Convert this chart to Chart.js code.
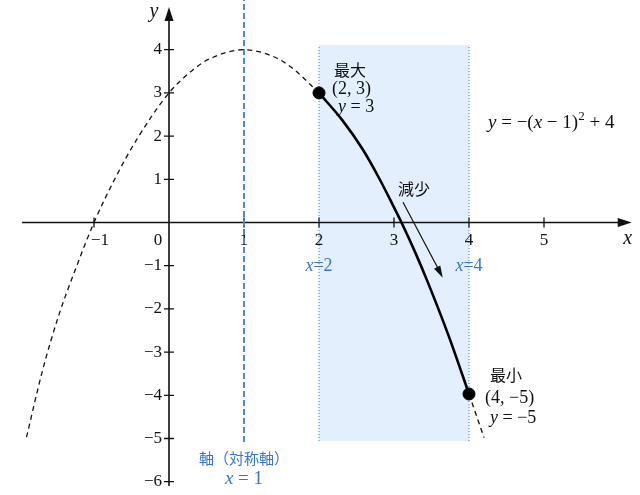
<!DOCTYPE html>
<html lang="ja">
<head>
<meta charset="UTF-8">
<title>y = -(x-1)^2 + 4 の最大・最小</title>
<script src="https://cdn.jsdelivr.net/npm/chart.js"></script>
<style>
  html, body { margin: 0; padding: 0; background: #fff; }
  #graph { display: block; }
</style>
</head>
<body>
<canvas id="graph" width="640" height="495"></canvas>
<script>
// 放物線（破線部分）：図から読み取った点
const dashX = [-1.9, -1.69, -1.47, -1.24, -1, -0.71, -0.42, 0, 0.31, 0.53, 1, 1.42, 1.64, 2];
const dashY = [-4.97, -3.45, -2.15, -1.05, 0, 1.05, 1.95, 3.0, 3.52, 3.78, 4.0, 3.82, 3.58, 3.0];
const tailX = [4, 4.2];
const tailY = [-3.97, -4.98];
// 定義域 2 ≤ x ≤ 4 の実線部分
const solidX = [2, 2.31, 2.58, 2.8, 2.98, 3.1, 3.29, 3.45, 3.73, 4];
const solidY = [3, 2.37, 1.7, 1.03, 0.42, 0, -0.72, -1.38, -2.63, -3.97];
// 最大・最小の点
const extremaX = [2, 4];
const extremaY = [3, -3.97];
// 目盛り
const xTicks = [-1, 1, 2, 3, 4, 5];
const yTicks = [-6, -5, -4, -3, -2, -1, 1, 2, 3, 4];
// 定義域の帯・対称軸・減少の矢印
const domain = [2, 4];
const bandY = [-5.06, 4.11];
const symX = 1;
const symY = [-5.08, 5.3];
const arrowX = [3.12, 3.65];
const arrowY = [0.47, -1.28];
// 座標軸の範囲
const xAxisRange = [-1.96, 6.17];
const yAxisRange = [-6.1, 4.99];

const BLUE = '#3374de';
const SERIF = '"Liberation Serif", "DejaVu Serif", serif';
const CJK = '"Noto Sans CJK JP", "Noto Sans", sans-serif';

const pts = (xs, ys) => xs.map((v, i) => ({ x: v, y: ys[i] }));

// 文字列の一部を斜体・上付きで描く
function rich(ctx, parts, x, y, size, color, align) {
  const fontOf = p => (p.it ? 'italic ' : '') + (p.sup ? Math.round(size * 0.7) : size) + 'px ' + SERIF;
  let total = 0;
  parts.forEach(p => { ctx.font = fontOf(p); total += ctx.measureText(p.t).width; });
  let cx = align === 'center' ? x - total / 2 : x;
  ctx.textAlign = 'left';
  ctx.textBaseline = 'middle';
  ctx.fillStyle = color;
  parts.forEach(p => {
    ctx.font = fontOf(p);
    ctx.fillText(p.t, cx, p.sup ? y - size * 0.36 : y);
    cx += ctx.measureText(p.t).width;
  });
}

function arrowHead(ctx, fx, fy, tx, ty, len, half) {
  const a = Math.atan2(ty - fy, tx - fx);
  ctx.beginPath();
  ctx.moveTo(tx, ty);
  ctx.lineTo(tx - len * Math.cos(a) + half * Math.sin(a), ty - len * Math.sin(a) - half * Math.cos(a));
  ctx.lineTo(tx - len * Math.cos(a) - half * Math.sin(a), ty - len * Math.sin(a) + half * Math.cos(a));
  ctx.closePath();
  ctx.fill();
}

const axesPlugin = {
  id: 'axes',
  beforeDatasetsDraw(chart) {
    const { ctx, scales: { x, y } } = chart;
    const x0 = x.getPixelForValue(0), y0 = y.getPixelForValue(0);
    ctx.save();
    // 定義域の帯
    ctx.fillStyle = '#e3effc';
    const l = x.getPixelForValue(domain[0]), r = x.getPixelForValue(domain[1]);
    const t = y.getPixelForValue(bandY[1]), b = y.getPixelForValue(bandY[0]);
    ctx.fillRect(l, t, r - l, b - t);

    // 軸
    ctx.strokeStyle = '#111';
    ctx.fillStyle = '#111';
    ctx.lineWidth = 1.6;
    const xr = x.getPixelForValue(xAxisRange[1]);
    const yt = y.getPixelForValue(yAxisRange[1]);
    ctx.beginPath();
    ctx.moveTo(x.getPixelForValue(xAxisRange[0]), y0);
    ctx.lineTo(xr - 6, y0);
    ctx.moveTo(x0, y.getPixelForValue(yAxisRange[0]));
    ctx.lineTo(x0, yt + 6);
    ctx.stroke();
    arrowHead(ctx, xr - 20, y0, xr, y0, 14, 4.5);
    arrowHead(ctx, x0, yt + 20, x0, yt, 14, 4.5);

    // 目盛り
    ctx.lineWidth = 1.3;
    ctx.beginPath();
    xTicks.forEach(v => {
      const p = x.getPixelForValue(v);
      ctx.moveTo(p, y0 - 5); ctx.lineTo(p, y0 + 5);
    });
    yTicks.forEach(v => {
      const p = y.getPixelForValue(v);
      ctx.moveTo(x0 - 5, p); ctx.lineTo(x0 + 5, p);
    });
    ctx.stroke();

    // 目盛りラベル
    ctx.font = '17px ' + SERIF;
    ctx.textBaseline = 'middle';
    ctx.textAlign = 'center';
    xTicks.forEach(v => {
      const p = x.getPixelForValue(v);
      const txt = v < 0 ? '\u2212' + Math.abs(v) : String(v);
      ctx.fillText(txt, v < 0 ? p + 6 : p, y0 + 18);
    });
    ctx.fillText('0', x0 - 11, y0 + 18);
    ctx.textAlign = 'right';
    yTicks.forEach(v => {
      const txt = v < 0 ? '\u2212' + Math.abs(v) : String(v);
      ctx.fillText(txt, x0 - 7, y.getPixelForValue(v));
    });

    // 軸の名前
    ctx.font = 'italic 20px ' + SERIF;
    ctx.textAlign = 'center';
    ctx.fillText('y', x0 - 15, yt + 5);
    ctx.fillText('x', xr - 4, y0 + 16);
    ctx.restore();
  },
  afterDatasetsDraw(chart) {
    const { ctx, scales: { x, y } } = chart;
    ctx.save();
    // 減少の矢印
    const ax1 = x.getPixelForValue(arrowX[0]), ay1 = y.getPixelForValue(arrowY[0]);
    const ax2 = x.getPixelForValue(arrowX[1]), ay2 = y.getPixelForValue(arrowY[1]);
    ctx.strokeStyle = '#111';
    ctx.fillStyle = '#111';
    ctx.lineWidth = 1.2;
    ctx.beginPath();
    ctx.moveTo(ax1, ay1);
    ctx.lineTo(ax2 - 4, ay2 - 8);
    ctx.stroke();
    arrowHead(ctx, ax1, ay1, ax2, ay2, 12, 3.5);

    ctx.textBaseline = 'middle';
    ctx.textAlign = 'left';
    ctx.font = '16px ' + CJK;
    ctx.fillStyle = '#111';
    ctx.fillText('減少', ax1 - 5, ay1 - 13);

    // 最大
    const mxX = x.getPixelForValue(extremaX[0]), mxY = y.getPixelForValue(extremaY[0]);
    ctx.font = '16px ' + CJK;
    ctx.fillText('最大', mxX + 15, mxY - 23);
    rich(ctx, [{ t: '(2, 3)' }], mxX + 13, mxY - 4, 18, '#111');
    rich(ctx, [{ t: 'y', it: true }, { t: ' = 3' }], mxX + 19, mxY + 14, 18, '#111');

    // 最小
    const mnX = x.getPixelForValue(extremaX[1]), mnY = y.getPixelForValue(extremaY[1]);
    ctx.font = '16px ' + CJK;
    ctx.fillStyle = '#111';
    ctx.textAlign = 'left';
    ctx.fillText('最小', mnX + 21, mnY - 19);
    rich(ctx, [{ t: '(4, \u22125)' }], mnX + 16, mnY + 4, 18, '#111');
    rich(ctx, [{ t: 'y', it: true }, { t: ' = \u22125' }], mnX + 21, mnY + 24, 18, '#111');

    // 関数の式
    rich(ctx, [
      { t: 'y', it: true }, { t: ' = \u2212(' }, { t: 'x', it: true },
      { t: ' \u2212 1)' }, { t: '2', sup: true }, { t: ' + 4' }
    ], 488, y.getPixelForValue(2.3), 19, '#111');

    // 定義域の端
    const y0 = y.getPixelForValue(0);
    domain.forEach(v => {
      rich(ctx, [{ t: 'x', it: true }, { t: '=' + v }], x.getPixelForValue(v), y0 + 44, 18, BLUE, 'center');
    });

    // 対称軸
    const sx = x.getPixelForValue(symX);
    const sb = y.getPixelForValue(symY[0]);
    ctx.font = '15px ' + CJK;
    ctx.fillStyle = BLUE;
    ctx.textAlign = 'center';
    ctx.fillText('軸（対称軸）', sx, sb + 16);
    rich(ctx, [{ t: 'x', it: true }, { t: ' = 1' }], sx, sb + 37, 19, BLUE, 'center');
    ctx.restore();
  }
};

new Chart(document.getElementById('graph'), {
  type: 'line',
  data: {
    datasets: [
      {
        label: '最大・最小',
        data: pts(extremaX, extremaY),
        pointRadius: 6,
        pointBackgroundColor: '#000',
        pointBorderColor: '#000',
        showLine: false,
        order: 0
      },
      {
        label: '定義域内',
        data: pts(solidX, solidY),
        borderColor: '#000',
        borderWidth: 2.6,
        cubicInterpolationMode: 'monotone',
        order: 1
      },
      {
        label: '放物線',
        data: pts(dashX, dashY),
        borderColor: '#111',
        borderWidth: 1.3,
        borderDash: [5, 4],
        cubicInterpolationMode: 'monotone',
        order: 2
      },
      {
        label: '放物線（右）',
        data: pts(tailX, tailY),
        borderColor: '#111',
        borderWidth: 1.3,
        borderDash: [5, 4],
        order: 2
      },
      {
        label: '対称軸',
        data: pts([symX, symX], symY),
        borderColor: '#4a86e8',
        borderWidth: 2,
        borderDash: [6, 3],
        order: 3
      },
      {
        label: 'x=2',
        data: pts([domain[0], domain[0]], bandY),
        borderColor: BLUE,
        borderWidth: 1,
        borderDash: [1, 2],
        order: 4
      },
      {
        label: 'x=4',
        data: pts([domain[1], domain[1]], bandY),
        borderColor: BLUE,
        borderWidth: 1,
        borderDash: [1, 2],
        order: 4
      }
    ]
  },
  options: {
    responsive: false,
    animation: false,
    layout: { padding: 0, autoPadding: false },
    clip: false,
    elements: { point: { radius: 0 } },
    scales: {
      x: { type: 'linear', min: -169 / 75, max: 471 / 75, display: false },
      y: { type: 'linear', min: -272.5 / 43.2, max: 222.5 / 43.2, display: false }
    },
    plugins: {
      legend: { display: false },
      tooltip: { enabled: false }
    }
  },
  plugins: [axesPlugin]
});
</script>
</body>
</html>
